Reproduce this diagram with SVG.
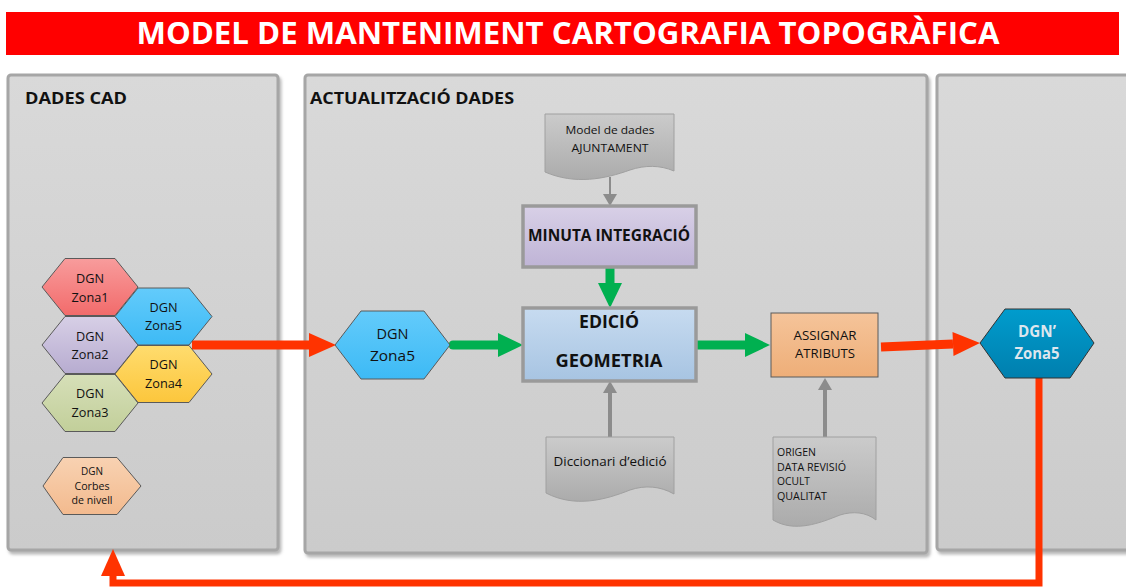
<svg xmlns="http://www.w3.org/2000/svg" width="1126" height="588" viewBox="0 0 1126 588">
<defs>
<style>
text{font-family:"Open Sans","Noto Sans","Liberation Sans",sans-serif;fill:#111;}
.b{font-weight:bold;}
.panel{fill:url(#gPanel);stroke:#a6a6a6;stroke-width:3;filter:url(#sh);}
.hex{stroke:#5a5a5a;stroke-width:1;}
.doc{fill:url(#gDoc);stroke:#a0a0a0;stroke-width:1;}
.box{stroke:#9a9a9a;stroke-width:3.5;}
.red{fill:none;stroke:#ff3300;stroke-width:9;}
.grn{fill:none;stroke:#00b050;stroke-width:9;stroke-linecap:round;}
.gry{fill:none;stroke:#8c8c8c;stroke-width:4;}
</style>
<filter id="sh" x="-5%" y="-5%" width="110%" height="110%">
<feDropShadow dx="2" dy="3" stdDeviation="1.5" flood-color="#8a8a8a" flood-opacity="0.6"/>
</filter>
<linearGradient id="gPanel" x1="0" y1="0" x2="0" y2="1"><stop offset="0" stop-color="#d9d9d9"/><stop offset="1" stop-color="#cbcbcb"/></linearGradient>
<linearGradient id="gDoc" x1="0" y1="0" x2="0" y2="1"><stop offset="0" stop-color="#cbcbcb"/><stop offset="1" stop-color="#ababab"/></linearGradient>
<linearGradient id="gRed" x1="0" y1="0" x2="0" y2="1"><stop offset="0" stop-color="#f89c9c"/><stop offset="1" stop-color="#f26b6b"/></linearGradient>
<linearGradient id="gCyan" x1="0" y1="0" x2="0" y2="1"><stop offset="0" stop-color="#63cbfb"/><stop offset="1" stop-color="#3dbaf5"/></linearGradient>
<linearGradient id="gLav" x1="0" y1="0" x2="0" y2="1"><stop offset="0" stop-color="#d7cfe6"/><stop offset="1" stop-color="#b7acd0"/></linearGradient>
<linearGradient id="gYel" x1="0" y1="0" x2="0" y2="1"><stop offset="0" stop-color="#ffdc6e"/><stop offset="1" stop-color="#fcc63c"/></linearGradient>
<linearGradient id="gGrn" x1="0" y1="0" x2="0" y2="1"><stop offset="0" stop-color="#d6dfb8"/><stop offset="1" stop-color="#c2cf9a"/></linearGradient>
<linearGradient id="gPeach" x1="0" y1="0" x2="0" y2="1"><stop offset="0" stop-color="#f8d2b2"/><stop offset="1" stop-color="#f3ba8e"/></linearGradient>
<linearGradient id="gOrange" x1="0" y1="0" x2="0" y2="1"><stop offset="0" stop-color="#f5c49a"/><stop offset="1" stop-color="#eeae78"/></linearGradient>
<linearGradient id="gBlue" x1="0" y1="0" x2="0" y2="1"><stop offset="0" stop-color="#009ccd"/><stop offset="1" stop-color="#007fae"/></linearGradient>
<linearGradient id="gEd" x1="0" y1="0" x2="0" y2="1"><stop offset="0" stop-color="#c7dbf0"/><stop offset="1" stop-color="#a7c4e2"/></linearGradient>
<linearGradient id="gMin" x1="0" y1="0" x2="0" y2="1"><stop offset="0" stop-color="#d8d0e7"/><stop offset="1" stop-color="#bfb4d6"/></linearGradient>
<marker id="mRed" markerUnits="userSpaceOnUse" viewBox="0 -12 27 24" markerWidth="27" markerHeight="24" refX="0" refY="0" orient="auto" overflow="visible"><path d="M0,-12 L27,0 L0,12 z" fill="#ff3300"/></marker>
<marker id="mGrn" markerUnits="userSpaceOnUse" viewBox="0 -12 25 24" markerWidth="25" markerHeight="24" refX="0" refY="0" orient="auto" overflow="visible"><path d="M0,-12 L25,0 L0,12 z" fill="#00b050"/></marker>
<marker id="mGry" markerUnits="userSpaceOnUse" viewBox="0 -7 12 14" markerWidth="12" markerHeight="14" refX="0" refY="0" orient="auto" overflow="visible"><path d="M0,-7 L12,0 L0,7 z" fill="#8c8c8c"/></marker>
</defs>

<rect x="0" y="0" width="1126" height="588" fill="#ffffff"/>

<g id="title">
<rect x="6" y="12" width="1113" height="43" fill="#ff0000"/>
<text x="568" y="44" text-anchor="middle" class="b" font-size="30" style="fill:#ffffff" textLength="863" lengthAdjust="spacingAndGlyphs">MODEL DE MANTENIMENT CARTOGRAFIA TOPOGRÀFICA</text>
</g>

<g id="panel-dades-cad">
<rect class="panel" x="8" y="75" width="270" height="475" rx="3"/>
<text x="25" y="104" class="b" font-size="16" textLength="102" lengthAdjust="spacingAndGlyphs">DADES CAD</text>
</g>
<g id="panel-actualitzacio">
<rect class="panel" x="305" y="75" width="622" height="478" rx="3"/>
<text x="310" y="104" class="b" font-size="16" textLength="204" lengthAdjust="spacingAndGlyphs">ACTUALITZACIÓ DADES</text>
</g>
<g id="panel-3">
<rect class="panel" x="937" y="75" width="200" height="475" rx="3"/>
</g>

<g id="connectors">
<path class="red" d="M192,345 H309" marker-end="url(#mRed)"/>
<path class="grn" d="M453,345 H498" marker-end="url(#mGrn)"/>
<path class="grn" d="M610,267 V283" marker-end="url(#mGrn)"/>
<path class="grn" d="M696,345 H745" marker-end="url(#mGrn)"/>
<path class="red" d="M881,347 L953,344" marker-end="url(#mRed)"/>
<path class="red" style="stroke-width:7" d="M1039,378 V583 H113 V576" marker-end="url(#mRed)"/>
<path class="gry" style="stroke-width:2" d="M610,177 V194" marker-end="url(#mGry)"/>
<path class="gry" d="M610,437 V393" marker-end="url(#mGry)"/>
<path class="gry" d="M825,438 V390" marker-end="url(#mGry)"/>
</g>

<g id="dgn-zona1">
<polygon class="hex" fill="url(#gRed)" points="42,287 65,258.5 115,258.5 138,287 115,315.5 65,315.5"/>
<text x="90" y="283" text-anchor="middle" font-size="13" textLength="28" lengthAdjust="spacingAndGlyphs">DGN</text>
<text x="90" y="302" text-anchor="middle" font-size="13" textLength="37" lengthAdjust="spacingAndGlyphs">Zona1</text>
</g>
<g id="dgn-zona2">
<polygon class="hex" fill="url(#gLav)" points="42,345 65,316.5 115,316.5 138,345 115,373.5 65,373.5"/>
<text x="90" y="341" text-anchor="middle" font-size="13" textLength="28" lengthAdjust="spacingAndGlyphs">DGN</text>
<text x="90" y="359" text-anchor="middle" font-size="13" textLength="37" lengthAdjust="spacingAndGlyphs">Zona2</text>
</g>
<g id="dgn-zona3">
<polygon class="hex" fill="url(#gGrn)" points="42,403 65,374.5 115,374.5 138,403 115,431.5 65,431.5"/>
<text x="90" y="398" text-anchor="middle" font-size="13" textLength="28" lengthAdjust="spacingAndGlyphs">DGN</text>
<text x="90" y="417" text-anchor="middle" font-size="13" textLength="37" lengthAdjust="spacingAndGlyphs">Zona3</text>
</g>
<g id="dgn-zona5-a">
<polygon class="hex" fill="url(#gCyan)" points="115,316.5 138,288 189,288 212,316.5 189,345 138,345"/>
<text x="163.5" y="312" text-anchor="middle" font-size="13" textLength="28" lengthAdjust="spacingAndGlyphs">DGN</text>
<text x="163.5" y="330" text-anchor="middle" font-size="13" textLength="37" lengthAdjust="spacingAndGlyphs">Zona5</text>
</g>
<g id="dgn-zona4">
<polygon class="hex" fill="url(#gYel)" points="115,374 138,345.5 189,345.5 212,374 189,402.5 138,402.5"/>
<text x="163.5" y="369" text-anchor="middle" font-size="13" textLength="28" lengthAdjust="spacingAndGlyphs">DGN</text>
<text x="163.5" y="388" text-anchor="middle" font-size="13" textLength="37" lengthAdjust="spacingAndGlyphs">Zona4</text>
</g>
<g id="dgn-corbes">
<polygon class="hex" fill="url(#gPeach)" points="43,486 63,457.5 117,457.5 141,486 117,514.5 63,514.5"/>
<text x="92" y="475" text-anchor="middle" font-size="10.5" textLength="22" lengthAdjust="spacingAndGlyphs">DGN</text>
<text x="92" y="489.5" text-anchor="middle" font-size="10.5" textLength="35" lengthAdjust="spacingAndGlyphs">Corbes</text>
<text x="92" y="504" text-anchor="middle" font-size="10.5" textLength="41" lengthAdjust="spacingAndGlyphs">de nivell</text>
</g>

<g id="dgn-zona5-b">
<polygon class="hex" fill="url(#gCyan)" points="335,345 361,311 424,311 450,345 424,379 361,379"/>
<text x="392.5" y="339" text-anchor="middle" font-size="15" textLength="32" lengthAdjust="spacingAndGlyphs">DGN</text>
<text x="392.5" y="361" text-anchor="middle" font-size="15" textLength="45" lengthAdjust="spacingAndGlyphs">Zona5</text>
</g>

<g id="model-dades">
<path class="doc" d="M545,114 H674 V171 C660,165 645,165 630,170 C605,179 575,185 545,172 Z"/>
<text x="610" y="134" text-anchor="middle" font-size="11.5" textLength="89" lengthAdjust="spacingAndGlyphs">Model de dades</text>
<text x="610" y="152" text-anchor="middle" font-size="11.5" textLength="77" lengthAdjust="spacingAndGlyphs">AJUNTAMENT</text>
</g>

<g id="minuta">
<rect class="box" x="523" y="206" width="173" height="61" fill="url(#gMin)"/>
<text x="609" y="241" text-anchor="middle" class="b" font-size="15.5" textLength="162" lengthAdjust="spacingAndGlyphs">MINUTA INTEGRACIÓ</text>
</g>

<g id="edicio">
<rect class="box" x="523" y="308" width="173" height="73" fill="url(#gEd)"/>
<text x="609" y="328" text-anchor="middle" class="b" font-size="17.5" textLength="60" lengthAdjust="spacingAndGlyphs">EDICIÓ</text>
<text x="609" y="367" text-anchor="middle" class="b" font-size="17.5" textLength="107" lengthAdjust="spacingAndGlyphs">GEOMETRIA</text>
</g>

<g id="diccionari">
<path class="doc" d="M546,437 H674 V494 C660,486 645,485 630,490 C605,500 575,508 546,493 Z"/>
<text x="610" y="466" text-anchor="middle" font-size="12.5" textLength="113" lengthAdjust="spacingAndGlyphs">Diccionari d’edició</text>
</g>

<g id="assignar">
<rect x="771" y="313" width="107" height="64" fill="url(#gOrange)" stroke="#5a5a5a" stroke-width="1"/>
<text x="825" y="340" text-anchor="middle" font-size="12.5" textLength="63" lengthAdjust="spacingAndGlyphs">ASSIGNAR</text>
<text x="825" y="358" text-anchor="middle" font-size="12.5" textLength="60" lengthAdjust="spacingAndGlyphs">ATRIBUTS</text>
</g>

<g id="atributs-doc">
<path class="doc" d="M773,437 H876 V520 C866,512 853,511 840,515 C820,523 795,533 773,520 Z"/>
<text x="777" y="456" font-size="10" textLength="39" lengthAdjust="spacingAndGlyphs">ORIGEN</text>
<text x="777" y="470.5" font-size="10" textLength="69" lengthAdjust="spacingAndGlyphs">DATA REVISIÓ</text>
<text x="777" y="485" font-size="10" textLength="33" lengthAdjust="spacingAndGlyphs">OCULT</text>
<text x="777" y="499.5" font-size="10" textLength="50" lengthAdjust="spacingAndGlyphs">QUALITAT</text>
</g>

<g id="dgn-prime-zona5">
<polygon fill="url(#gBlue)" stroke="#333333" stroke-width="1" points="980,343 1005,309 1070,309 1094,343 1070,378 1005,378"/>
<text x="1037" y="337" text-anchor="middle" class="b" font-size="15.5" style="fill:#dde6ee" textLength="38" lengthAdjust="spacingAndGlyphs">DGN’</text>
<text x="1037" y="359" text-anchor="middle" class="b" font-size="15.5" style="fill:#dde6ee" textLength="45" lengthAdjust="spacingAndGlyphs">Zona5</text>
</g>
</svg>
